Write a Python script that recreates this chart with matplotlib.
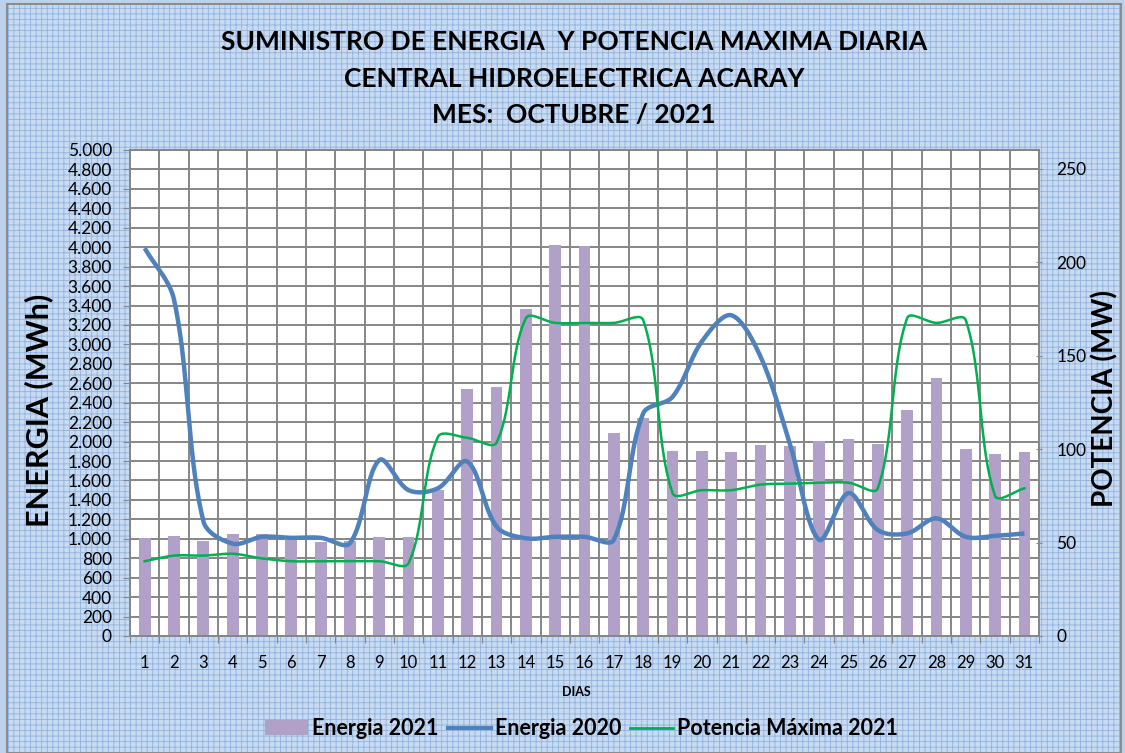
import numpy as np
import matplotlib
matplotlib.use('Agg')
import matplotlib.pyplot as plt
from matplotlib.patches import Rectangle
from matplotlib.lines import Line2D
from matplotlib.patches import Patch
from matplotlib.ticker import FuncFormatter, FixedLocator

# ---- data ----
dias = list(range(1, 32))
energia_2021 = [1010, 1030, 980, 1045, 1045, 1005, 970, 980, 1015, 1015,
                1500, 2540, 2565, 3360, 4025, 4010, 2090, 2240, 1905, 1905,
                1893, 1960, 1950, 2005, 2030, 1975, 2330, 2655, 1920, 1870, 1895]
energia_2020 = [3990, 3460, 1180, 950, 1020, 1010, 1010, 955, 1810, 1500,
                1520, 1795, 1125, 1005, 1020, 1020, 990, 2290, 2460, 3030,
                3300, 2875, 1980, 990, 1470, 1090, 1055, 1210, 1020, 1030, 1055]
potencia_2021 = [40, 43, 43, 44, 41.5, 40, 40, 40, 40, 39,
                 106.5, 106, 103.5, 170, 167.5, 167.5, 167.5, 169, 76.5, 78,
                 78, 81, 81.5, 82, 82, 79, 170, 167.5, 169, 75, 79]


def smooth(x, y, sx, sy, n=24):
    # excel style smoothed line, control points worked out in screen units
    P = np.column_stack([np.asarray(x, float) * sx, np.asarray(y, float) * sy])
    P = np.vstack([P[0], P, P[-1]])
    d = np.hypot(*np.diff(P, axis=0).T)
    t = np.linspace(0, 1, n)[:, None]
    out = []
    for i in range(1, len(P) - 2):
        p0, p3 = P[i], P[i + 1]
        a = d[i] / (d[i - 1] + d[i]) if d[i - 1] + d[i] > 0 else 0.5
        b = d[i] / (d[i] + d[i + 1]) if d[i] + d[i + 1] > 0 else 0.5
        c1 = p0 + (P[i + 1] - P[i - 1]) * a / 3
        c2 = p3 - (P[i + 2] - P[i]) * b / 3
        seg = (1 - t) ** 3 * p0 + 3 * (1 - t) ** 2 * t * c1 + 3 * (1 - t) * t ** 2 * c2 + t ** 3 * p3
        out.append(seg)
    out = np.vstack(out)
    return out[:, 0] / sx, out[:, 1] / sy


plt.rcParams['font.family'] = ['Lato', 'DejaVu Sans']
plt.rcParams['hatch.linewidth'] = 0.6

fig = plt.figure(figsize=(11.25, 7.53), dpi=100)
fig.patch.set_facecolor('#bcd1ec')

# checkered background + border
bg = Rectangle((0.006, 0.0), 0.99, 0.995, transform=fig.transFigure,
               facecolor='#c9dbf1', edgecolor='#8fb2e0', hatch='+++', lw=0, zorder=-5)
fig.patches.append(bg)
border = Rectangle((0.006, 0.0), 0.99, 0.995, transform=fig.transFigure,
                   facecolor='none', edgecolor='#8c8c8c', lw=1.5, zorder=-4)
fig.patches.append(border)

ax = fig.add_axes([0.1156, 0.1554, 0.8080, 0.6454])
ax.set_facecolor('white')
ax.set_zorder(1)

x = np.array(dias)
ax.bar(x, energia_2021, width=0.4, color='#b1a0c7', zorder=2)
px_day = 909 / 31
sx, sy = smooth(x, energia_2020, px_day, 486 / 5000)
ax.plot(sx, sy, color='#4f81bd', lw=3.2, solid_capstyle='butt', zorder=3)

ax.set_xlim(0.5, 31.5)
ax.set_ylim(0, 5000)
ax.set_yticks(range(0, 5001, 200))
ax.yaxis.set_major_formatter(FuncFormatter(lambda v, p: f'{int(v):,}'.replace(',', '.')))
ax.xaxis.set_major_locator(FixedLocator(np.arange(0.5, 32, 1)))
ax.xaxis.set_minor_locator(FixedLocator(x))
ax.set_xticklabels([])
ax.set_xticklabels([str(d) for d in dias], minor=True)
ax.tick_params(axis='x', which='minor', length=0, labelsize=12, pad=14)
ax.tick_params(axis='x', which='major', length=5, color='#868686', direction='out')
ax.tick_params(axis='y', labelsize=12.5, length=5, color='#868686', pad=8)
ax.grid(True, which='major', color='#868686', lw=1.4, zorder=0)
ax.set_axisbelow(True)
for s in ax.spines.values():
    s.set_color('#868686')
    s.set_linewidth(1.4)

ax2 = ax.twinx()
sx2, sy2 = smooth(x, potencia_2021, px_day, 486 / 260)
ax2.plot(sx2, sy2, color='#00b050', lw=1.8, zorder=4)
ax2.set_ylim(0, 260)
ax2.set_yticks(range(0, 251, 50))
ax2.tick_params(axis='y', labelsize=12.5, length=5, color='#868686', direction='inout', pad=10)
for s in ax2.spines.values():
    s.set_visible(False)

fig.text(0.034, 0.455, 'ENERGIA (MWh)', rotation=90, fontsize=22, fontweight='bold',
         ha='center', va='center')
fig.text(0.982, 0.471, 'POTENCIA (MW)', rotation=90, fontsize=20, fontweight='bold',
         ha='center', va='center')

fig.text(0.51, 0.944, 'SUMINISTRO DE ENERGIA  Y POTENCIA MAXIMA DIARIA', fontsize=19,
         fontweight='bold', ha='center', va='center')
fig.text(0.51, 0.895, 'CENTRAL HIDROELECTRICA ACARAY', fontsize=19,
         fontweight='bold', ha='center', va='center')
fig.text(0.51, 0.847, 'MES:  OCTUBRE / 2021', fontsize=19,
         fontweight='bold', ha='center', va='center')

fig.text(0.512, 0.081, 'DIAS', fontsize=9, fontweight='bold', ha='center', va='center')

handles = [Patch(facecolor='#b1a0c7', edgecolor='none'),
           Line2D([], [], color='#4f81bd', lw=3),
           Line2D([], [], color='#00b050', lw=2)]
fig.legend(handles, ['Energia 2021', 'Energia 2020', 'Potencia Máxima 2021'],
           loc='center', bbox_to_anchor=(0.517, 0.032), ncol=3, frameon=False,
           prop={'size': 15.5, 'weight': 'bold'}, handlelength=2.0, handletextpad=0.2,
           columnspacing=0.4)

fig.savefig('out.png', dpi=100, facecolor=fig.get_facecolor())
